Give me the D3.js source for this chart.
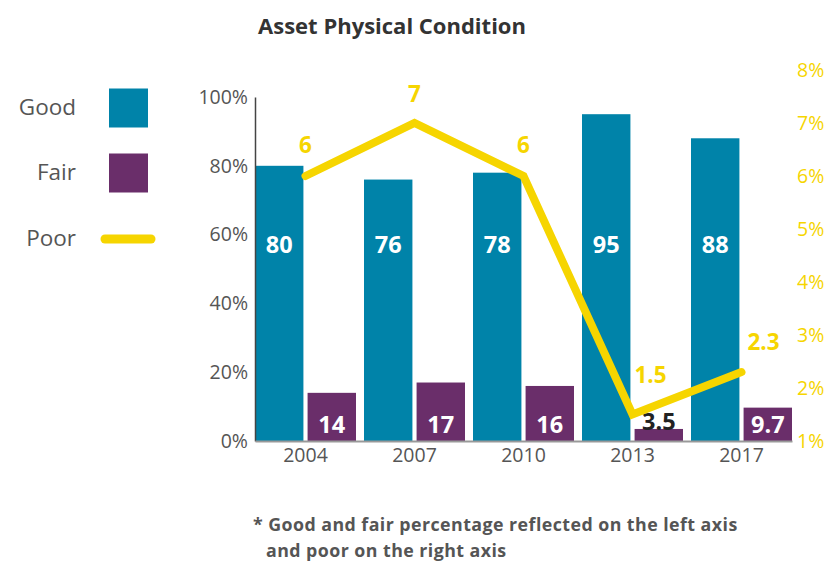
<!DOCTYPE html>
<html><head><meta charset="utf-8">
<script src="https://cdn.jsdelivr.net/npm/d3@7"></script>
<style>body{margin:0;background:#fff}svg{display:block}text{font-family:"Open Sans","Noto Sans",sans-serif}</style>
</head><body><svg id="c" width="830" height="563"></svg>
<script>
const years = ["2004","2007","2010","2013","2017"];
const good = [80,76,78,95,88];
const fair = [14,17,16,3.5,9.7];
const poor = [6,7,6,1.5,2.3];
const leftTicks = [0,20,40,60,80,100];
const rightTicks = [1,2,3,4,5,6,7,8];

const C_GOOD="#0083A9", C_FAIR="#6A2E6A", C_POOR="#F6D500", C_TXT="#555555";
const svg=d3.select("#c");

const x=d3.scaleBand().domain(years).range([255,792]).paddingInner(8/109).paddingOuter(0);
const xi=d3.scaleBand().domain(["good","fair"]).range([0,x.bandwidth()]).paddingInner(4/50.5).paddingOuter(0);
const yL=d3.scaleLinear().domain([0,100]).range([441,97]);
const yR=d3.scaleLinear().domain([1,8]).range([441,70]);

// title
svg.append("text").attr("x",392).attr("y",34).attr("text-anchor","middle")
  .attr("font-size",22).attr("font-weight","bold").attr("fill","#333")
  .text("Asset Physical Condition");

// bars
const g=svg.append("g");
years.forEach((yr,i)=>{
  g.append("rect").attr("x",x(yr)+xi("good")).attr("width",xi.bandwidth())
    .attr("y",yL(good[i])).attr("height",yL(0)-yL(good[i])).attr("fill",C_GOOD);
  g.append("rect").attr("x",x(yr)+xi("fair")).attr("width",xi.bandwidth())
    .attr("y",yL(fair[i])).attr("height",yL(0)-yL(fair[i])).attr("fill",C_FAIR);
  g.append("text").attr("x",x(yr)+xi("good")+xi.bandwidth()/2).attr("y",253)
    .attr("text-anchor","middle").attr("font-size",23.5).attr("font-weight","bold").attr("fill","#fff").text(good[i]);
  const small = yL(0)-yL(fair[i]) < 20;
  g.append("text").attr("x",x(yr)+xi("fair")+xi.bandwidth()/2).attr("y",small?430:433)
    .attr("text-anchor","middle").attr("font-size",23.5).attr("font-weight","bold")
    .attr("fill",small?"#222":"#fff").text(fair[i]);
});

// left axis
const axL=svg.append("g").attr("transform","translate(255,0)")
  .call(d3.axisLeft(yL).tickValues(leftTicks).tickSize(0).tickPadding(7).tickFormat(d=>d+"%"));
axL.select(".domain").attr("stroke","#444").attr("stroke-width",1.5);
axL.selectAll("text").attr("font-size",19.5).attr("fill",C_TXT).attr("font-family","'Open Sans',sans-serif");

// bottom axis
const axB=svg.append("g").attr("transform","translate(0,441)")
  .call(d3.axisBottom(x).tickSize(0).tickPadding(7));
axB.select(".domain").attr("stroke","#999").attr("stroke-width",2);
axB.selectAll("text").attr("font-size",19.5).attr("fill",C_TXT).attr("font-family","'Open Sans',sans-serif");

// right axis
const axR=svg.append("g").attr("transform","translate(797,0)")
  .call(d3.axisRight(yR).tickValues(rightTicks).tickSize(0).tickPadding(0).tickFormat(d=>d+"%"));
axR.select(".domain").remove();
axR.selectAll("text").attr("font-size",19.5).attr("fill",C_POOR).attr("font-family","'Open Sans',sans-serif");

// poor line
const line=d3.line().x((d,i)=>x(years[i])+x.bandwidth()/2).y(d=>yR(d));
svg.append("path").datum(poor).attr("d",line).attr("fill","none").attr("stroke",C_POOR)
  .attr("stroke-width",8).attr("stroke-linecap","round").attr("stroke-linejoin","miter");
const poorLab=[[0,-23],[0,-21],[0,-23],[18,-32],[22,-22]];
poor.forEach((v,i)=>{
  svg.append("text").attr("x",x(years[i])+x.bandwidth()/2+poorLab[i][0]).attr("y",yR(v)+poorLab[i][1])
    .attr("text-anchor","middle").attr("font-size",22.5).attr("font-weight","bold").attr("fill",C_POOR).text(v);
});

// legend
const leg=[["Good",C_GOOD,108],["Fair",C_FAIR,173]];
leg.forEach(l=>{
  svg.append("text").attr("x",76).attr("y",l[2]+7).attr("text-anchor","end").attr("font-size",22.5).attr("fill",C_TXT).text(l[0]);
  svg.append("rect").attr("x",109).attr("y",l[2]-19.5).attr("width",39).attr("height",39).attr("fill",l[1]);
});
svg.append("text").attr("x",76).attr("y",246).attr("text-anchor","end").attr("font-size",22.5).attr("fill",C_TXT).text("Poor");
svg.append("line").attr("x1",105).attr("x2",151).attr("y1",239).attr("y2",239).attr("stroke",C_POOR).attr("stroke-width",9).attr("stroke-linecap","round");

// footnote
svg.append("text").attr("x",253).attr("y",531).attr("font-size",17.8).attr("letter-spacing","0.45").attr("font-weight","bold").attr("fill",C_TXT).text("* Good and fair percentage reflected on the left axis");
svg.append("text").attr("x",266).attr("y",557).attr("font-size",17.8).attr("letter-spacing","0.45").attr("font-weight","bold").attr("fill",C_TXT).text("and poor on the right axis");
</script></body></html>
